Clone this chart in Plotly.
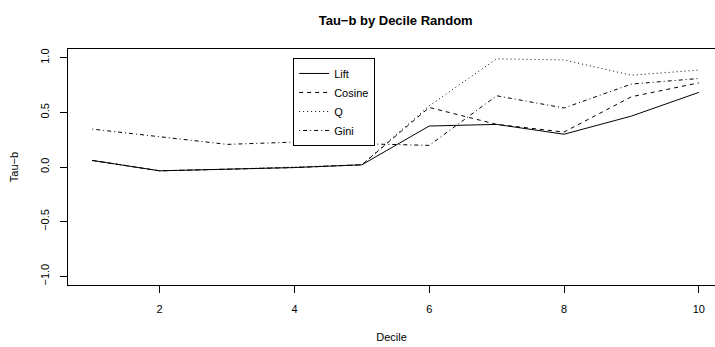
import plotly.graph_objects as go

# Kendall's tau-b of each measure against the reference ranking, per decile
decile = [1, 2, 3, 4, 5, 6, 7, 8, 9, 10]
lift = [0.06, -0.035, -0.02, -0.005, 0.02, 0.375, 0.39, 0.30, 0.466, 0.683]
cosine = [0.06, -0.035, -0.02, -0.005, 0.02, 0.545, 0.39, 0.32, 0.643, 0.77]
q_measure = [0.06, -0.035, -0.02, 0.0, 0.02, 0.56, 0.99, 0.98, 0.84, 0.887]
gini = [0.347, 0.277, 0.207, 0.228, 0.216, 0.198, 0.652, 0.54, 0.759, 0.81]

x_ticks = [2, 4, 6, 8, 10]
y_ticks = [-1.0, -0.5, 0.0, 0.5, 1.0]

FONT = "Liberation Sans, Arial, Helvetica, sans-serif"

series = [
    ("Lift", lift, "solid"),
    ("Cosine", cosine, "4px,4px"),
    ("Q", q_measure, "1px,3px"),
    ("Gini", gini, "1px,3px,4px,3px"),
]

fig = go.Figure()
for name, vals, dash in series:
    fig.add_trace(go.Scatter(
        x=decile, y=vals, name=name, mode="lines",
        line=dict(color="black", width=1, dash=dash),
    ))

fig.update_layout(
    width=715, height=347,
    margin=dict(l=68, r=0, t=49, b=62),
    paper_bgcolor="white", plot_bgcolor="white",
    font=dict(family=FONT, size=11, color="black"),
    title=dict(
        text="<b>Tau\u2212b by Decile Random</b>",
        font=dict(size=13, family=FONT, color="black"),
        xref="container", x=0.5534, xanchor="center",
        yref="container", y=1 - 20 / 347, yanchor="middle",
    ),
    showlegend=True,
    legend=dict(
        x=0.348, y=0.962, xanchor="left", yanchor="top",
        bordercolor="black", borderwidth=1, bgcolor="white",
        font=dict(size=11, family=FONT, color="black"),
        itemwidth=30, tracegroupgap=0,
    ),
)

fig.update_xaxes(
    range=[0.64, 10.24],
    tickvals=x_ticks, ticktext=[str(v) for v in x_ticks],
    ticks="outside", ticklen=7, tickcolor="black", tickwidth=1,
    ticklabelstandoff=7,
    showline=True, linecolor="black", linewidth=1, mirror=True,
    showgrid=False, zeroline=False,
    title=dict(text="Decile", standoff=19, font=dict(size=11)),
)
fig.update_yaxes(
    range=[-1.08, 1.08],
    tickvals=y_ticks, tickformat=".1f", tickangle=-90,
    ticks="outside", ticklen=7, tickcolor="black", tickwidth=1,
    ticklabelstandoff=7,
    showline=True, linecolor="black", linewidth=1, mirror=False,
    showgrid=False, zeroline=False,
    title=dict(text="Tau\u2212b", standoff=17, font=dict(size=11)),
)

fig.write_html("out.html")
